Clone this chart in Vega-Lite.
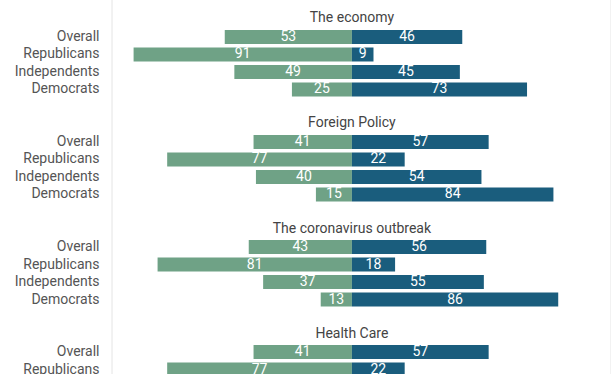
{
  "$schema": "https://vega.github.io/schema/vega-lite/v6.json",
  "autosize": "none",
  "padding": {"left": 112, "top": 0, "right": 0, "bottom": 0},
  "width": 499,
  "height": 441.5,
  "config": {"view": {"stroke": null}, "font": "Roboto"},
  "data": {
    "values": [
      {"issue": "The economy", "group": "Overall", "side": "Disapprove", "pct": 53},
      {"issue": "The economy", "group": "Overall", "side": "Approve", "pct": 46},
      {"issue": "The economy", "group": "Republicans", "side": "Disapprove", "pct": 91},
      {"issue": "The economy", "group": "Republicans", "side": "Approve", "pct": 9},
      {"issue": "The economy", "group": "Independents", "side": "Disapprove", "pct": 49},
      {"issue": "The economy", "group": "Independents", "side": "Approve", "pct": 45},
      {"issue": "The economy", "group": "Democrats", "side": "Disapprove", "pct": 25},
      {"issue": "The economy", "group": "Democrats", "side": "Approve", "pct": 73},
      {"issue": "Foreign Policy", "group": "Overall", "side": "Disapprove", "pct": 41},
      {"issue": "Foreign Policy", "group": "Overall", "side": "Approve", "pct": 57},
      {"issue": "Foreign Policy", "group": "Republicans", "side": "Disapprove", "pct": 77},
      {"issue": "Foreign Policy", "group": "Republicans", "side": "Approve", "pct": 22},
      {"issue": "Foreign Policy", "group": "Independents", "side": "Disapprove", "pct": 40},
      {"issue": "Foreign Policy", "group": "Independents", "side": "Approve", "pct": 54},
      {"issue": "Foreign Policy", "group": "Democrats", "side": "Disapprove", "pct": 15},
      {"issue": "Foreign Policy", "group": "Democrats", "side": "Approve", "pct": 84},
      {"issue": "The coronavirus outbreak", "group": "Overall", "side": "Disapprove", "pct": 43},
      {"issue": "The coronavirus outbreak", "group": "Overall", "side": "Approve", "pct": 56},
      {"issue": "The coronavirus outbreak", "group": "Republicans", "side": "Disapprove", "pct": 81},
      {"issue": "The coronavirus outbreak", "group": "Republicans", "side": "Approve", "pct": 18},
      {"issue": "The coronavirus outbreak", "group": "Independents", "side": "Disapprove", "pct": 37},
      {"issue": "The coronavirus outbreak", "group": "Independents", "side": "Approve", "pct": 55},
      {"issue": "The coronavirus outbreak", "group": "Democrats", "side": "Disapprove", "pct": 13},
      {"issue": "The coronavirus outbreak", "group": "Democrats", "side": "Approve", "pct": 86},
      {"issue": "Health Care", "group": "Overall", "side": "Disapprove", "pct": 41},
      {"issue": "Health Care", "group": "Overall", "side": "Approve", "pct": 57},
      {"issue": "Health Care", "group": "Republicans", "side": "Disapprove", "pct": 77},
      {"issue": "Health Care", "group": "Republicans", "side": "Approve", "pct": 22}
    ]
  },
  "transform": [
    {"calculate": "datum.issue + '|' + datum.group", "as": "key"},
    {"calculate": "datum.side == 'Disapprove' ? -datum.pct : datum.pct", "as": "pos"},
    {"calculate": "datum.pos / 2", "as": "mid"}
  ],
  "layer": [
    {
      "mark": {"type": "bar"},
      "encoding": {
        "y": {
          "field": "key", "type": "nominal",
          "scale": {
            "domain": [
              "The economy|_t", "The economy|Overall", "The economy|Republicans", "The economy|Independents", "The economy|Democrats", "The economy|_g",
              "Foreign Policy|_t", "Foreign Policy|Overall", "Foreign Policy|Republicans", "Foreign Policy|Independents", "Foreign Policy|Democrats", "Foreign Policy|_g",
              "The coronavirus outbreak|_t", "The coronavirus outbreak|Overall", "The coronavirus outbreak|Republicans", "The coronavirus outbreak|Independents", "The coronavirus outbreak|Democrats", "The coronavirus outbreak|_g",
              "Health Care|_t", "Health Care|Overall", "Health Care|Republicans", "Health Care|Independents", "Health Care|Democrats", "Health Care|_g"
            ],
            "paddingInner": 0.2,
            "paddingOuter": 0.714
          },
          "axis": {
            "title": null, "ticks": false, "domain": false, "labelPadding": 13,
            "labelFontSize": 14, "labelColor": "#555555", "labelFont": "Roboto",
            "labelExpr": "indexof(datum.label, '|_') >= 0 ? '' : split(datum.label, '|')[1]"
          }
        },
        "x": {"field": "pos", "type": "quantitative", "scale": {"domain": [-100, 108], "nice": false, "zero": false}, "axis": null},
        "x2": {"datum": 0},
        "color": {"field": "side", "type": "nominal", "scale": {"domain": ["Disapprove", "Approve"], "range": ["#6fa286", "#1a5d7d"]}, "legend": null}
      }
    },
    {
      "mark": {"type": "text", "color": "white", "fontSize": 14, "font": "Roboto"},
      "encoding": {
        "y": {"field": "key", "type": "nominal"},
        "x": {"field": "mid", "type": "quantitative"},
        "text": {"field": "pct"}
      }
    },
    {
      "transform": [
        {"filter": "datum.group == 'Overall' && datum.side == 'Disapprove'"},
        {"calculate": "datum.issue + '|_t'", "as": "tkey"}
      ],
      "mark": {"type": "text", "color": "#444444", "fontSize": 14, "font": "Roboto", "baseline": "alphabetic", "dy": 3},
      "encoding": {
        "y": {"field": "tkey", "type": "nominal"},
        "x": {"datum": 0},
        "text": {"field": "issue"}
      }
    },
    {
      "data": {"values": [{}]},
      "mark": {"type": "rule", "color": "#e4e4e4", "strokeWidth": 1},
      "encoding": {"x": {"datum": -100}}
    },
    {
      "data": {"values": [{}]},
      "mark": {"type": "rule", "color": "#e4e4e4", "strokeWidth": 1},
      "encoding": {"x": {"datum": 108}}
    }
  ]
}
